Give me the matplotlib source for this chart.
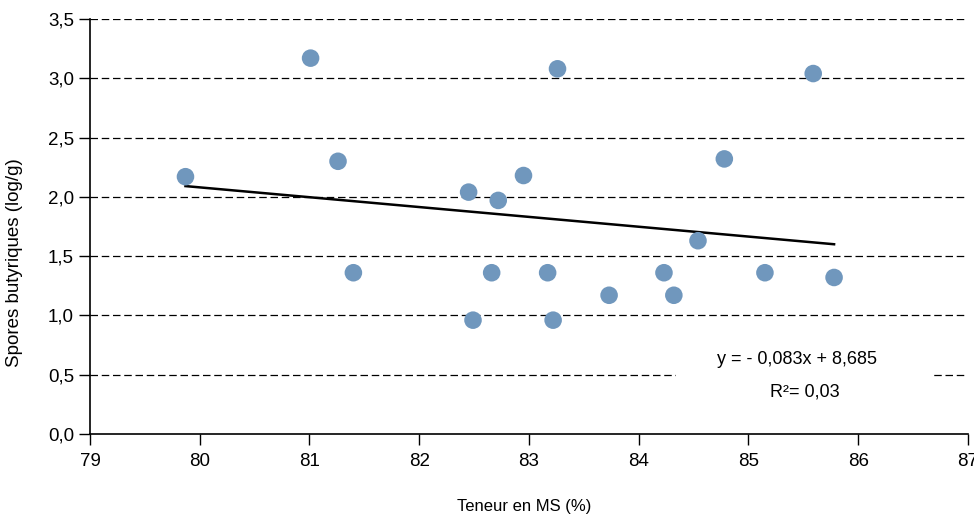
import matplotlib
matplotlib.use("Agg")
from matplotlib import pyplot as plt
import numpy as np

plt.rcParams['font.family'] = ['Liberation Sans', 'DejaVu Sans']

# teneur en MS (%) et spores butyriques (log/g)
ms = [79.87, 81.01, 81.26, 81.40, 82.45, 82.49, 82.66, 82.72, 82.95, 83.17,
      83.22, 83.26, 83.73, 84.23, 84.32, 84.54, 84.78, 85.15, 85.59, 85.78]
spores = [2.17, 3.17, 2.30, 1.36, 2.04, 0.96, 1.36, 1.97, 2.18, 1.36,
          0.96, 3.08, 1.17, 1.36, 1.17, 1.63, 2.32, 1.36, 3.04, 1.32]

# droite de tendance
pente = -0.083
origine = 8.72

fig = plt.figure(figsize=(9.74, 5.18), dpi=100)
ax = fig.add_axes([0.0924, 0.1622, 0.9014, 0.8011])

for yv in [0.5, 1.0, 1.5, 2.0, 2.5, 3.0, 3.5]:
    ax.axhline(yv, color='black', lw=0.9, ls=(0, (6, 3)), zorder=1)

ax.scatter(ms, spores, s=160, color='#7097bd', edgecolors='none', zorder=3)

xs = np.array([min(ms), max(ms)])
ax.plot(xs, pente * xs + origine, color='black', lw=1.8, zorder=2)

# zone blanche de l'étiquette de la tendance
ax.fill_between([84.34, 86.67], 0.42, 0.58, color='white', lw=0, zorder=2)
ax.text(85.44, 0.625, "y = - 0,083x + 8,685", ha='center', va='center',
        fontsize=13, zorder=4)
ax.text(85.51, 0.355, "R²= 0,03", ha='center', va='center',
        fontsize=13, zorder=4)

ax.set_xlim(79, 87)
ax.set_ylim(0, 3.5)
ax.set_xticks(range(79, 88))
ax.set_yticks(np.arange(0, 3.51, 0.5))
ax.set_yticklabels([f"{v:.1f}".replace('.', ',') for v in np.arange(0, 3.51, 0.5)])
ax.tick_params(axis='both', labelsize=13.5, length=8, width=1, direction='out')
ax.tick_params(axis='x', pad=6)

for s in ['top', 'right']:
    ax.spines[s].set_visible(False)
ax.spines['left'].set_linewidth(1.2)
ax.spines['bottom'].set_linewidth(1.2)

ax.set_xlabel("Teneur en MS (%)", fontsize=12)
ax.set_ylabel("Spores butyriques (log/g)", fontsize=13.5)
ax.xaxis.set_label_coords(0.494, -0.157)
ax.yaxis.set_label_coords(-0.076, 0.414)

fig.savefig("out.png", dpi=100)
